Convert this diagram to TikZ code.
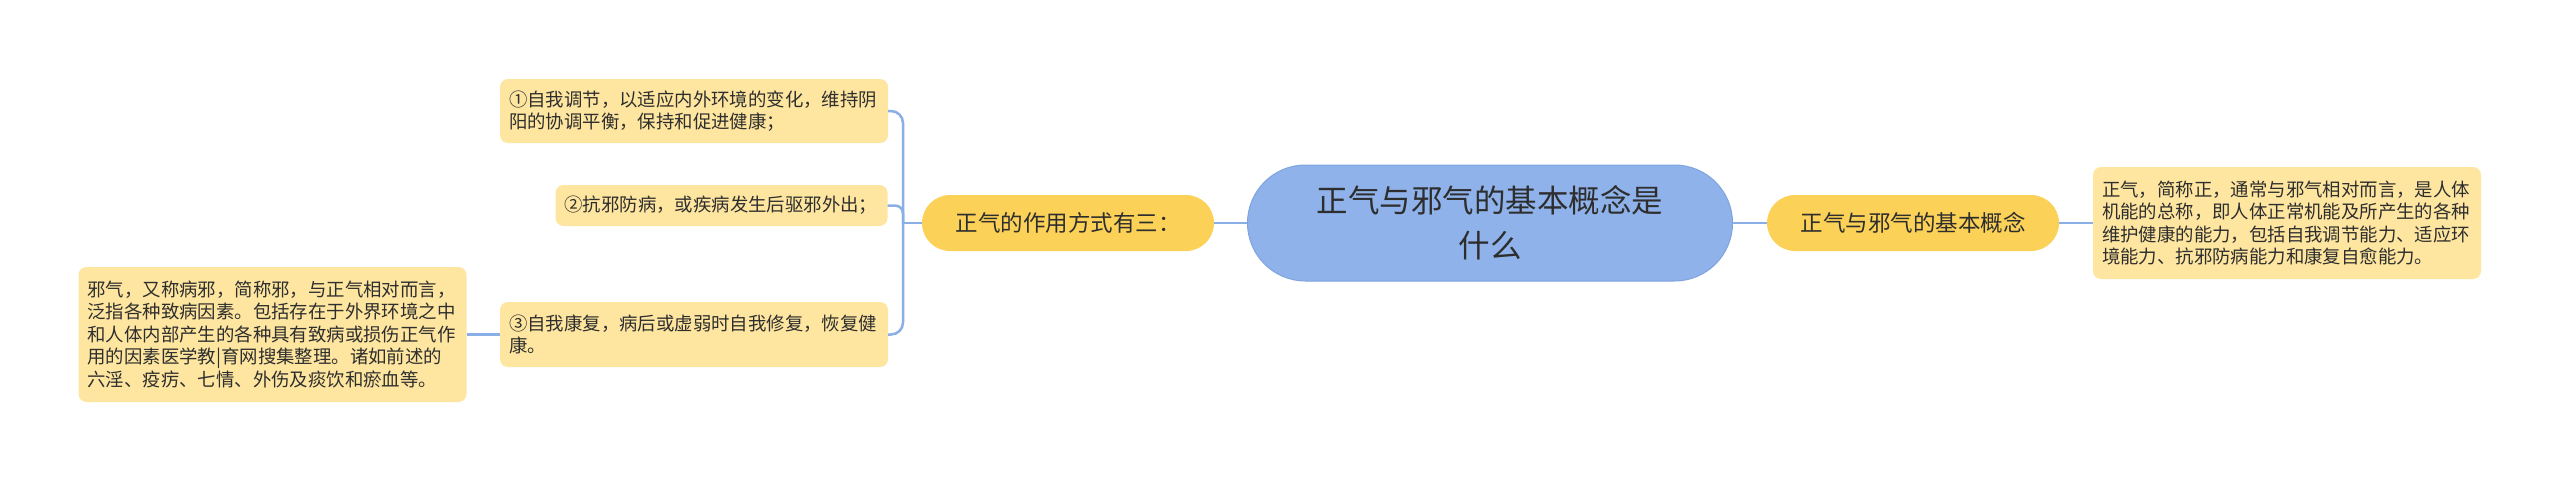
\documentclass[tikz,border=0pt]{standalone}
\usepackage{fontspec}
\setmainfont{Noto Sans CJK SC}
\definecolor{rootc}{HTML}{8EB2E9}
\definecolor{rootd}{HTML}{7FA3DE}
\definecolor{midc}{HTML}{FBD257}
\definecolor{leafc}{HTML}{FEE6A0}
\definecolor{linec}{HTML}{8AAEE6}
\definecolor{txt}{HTML}{2E2E2E}
\begin{document}
\begin{tikzpicture}[x=1pt,y=-1pt,
  conn/.style={draw=linec, line width=2.5pt},
  rootbox/.style={fill=rootc, draw=rootd, line width=1pt, rounded corners=58pt, minimum width=485pt, minimum height=116pt, inner sep=0pt, align=center, text=txt, font=\fontsize{31.5}{45}\selectfont},
  midbox/.style={fill=midc, rounded corners=28pt, minimum width=292pt, minimum height=56pt, inner sep=0pt, text=txt, font=\fontsize{22.5}{27}\selectfont},
  leafbox/.style={fill=leafc, rounded corners=8pt, inner xsep=9pt, inner ysep=0pt, align=left, text=txt, font=\fontsize{18.4}{22.5}\selectfont}
]
\useasboundingbox[fill=white] (0,0) rectangle (2560,482);

\node[rootbox] (root) at (1490,223) {正气与邪气的基本概念是\\什么};
\node[midbox] (ml) at (1068,223) {正气的作用方式有三：};
\node[midbox] (mr) at (1913,223) {正气与邪气的基本概念};

\node[leafbox, text width=370pt, minimum height=112pt] (rl) at (2287,223)
  {正气，简称正，通常与邪气相对而言，是人体\\机能的总称，即人体正常机能及所产生的各种\\维护健康的能力，包括自我调节能力、适应环\\境能力、抗邪防病能力和康复自愈能力。};

\node[leafbox, text width=370pt, minimum height=64pt] (l1) at (694,111)
  {①自我调节，以适应内外环境的变化，维持阴\\阳的协调平衡，保持和促进健康；};
\node[leafbox, text width=314pt, minimum height=41pt] (l2) at (721.5,205.5)
  {②抗邪防病，或疾病发生后驱邪外出；};
\node[leafbox, text width=370pt, minimum height=65pt] (l3) at (694,334.5)
  {③自我康复，病后或虚弱时自我修复，恢复健\\康。};
\node[leafbox, text width=370pt, minimum height=135pt] (fl) at (272.5,334.5)
  {邪气，又称病邪，简称邪，与正气相对而言，\\泛指各种致病因素。包括存在于外界环境之中\\和人体内部产生的各种具有致病或损伤正气作\\用的因素医学教|育网搜集整理。诸如前述的\\六淫、疫疠、七情、外伤及痰饮和瘀血等。};

\coordinate (tr) at (903,223);
\draw[conn] (root.west) -- (ml.east);
\draw[conn] (root.east) -- (mr.west);
\draw[conn] (mr.east) -- (rl.west);
\draw[conn] (ml.west) -- (tr);
\draw[conn, rounded corners=12pt] (tr) -- (903,111) -- (l1.east);
\draw[conn, rounded corners=8pt] (tr) -- (903,205.5) -- (l2.east);
\draw[conn, rounded corners=12pt] (tr) -- (903,334.5) -- (l3.east);
\draw[conn] (l3.west) -- (fl.east);
\end{tikzpicture}
\end{document}
